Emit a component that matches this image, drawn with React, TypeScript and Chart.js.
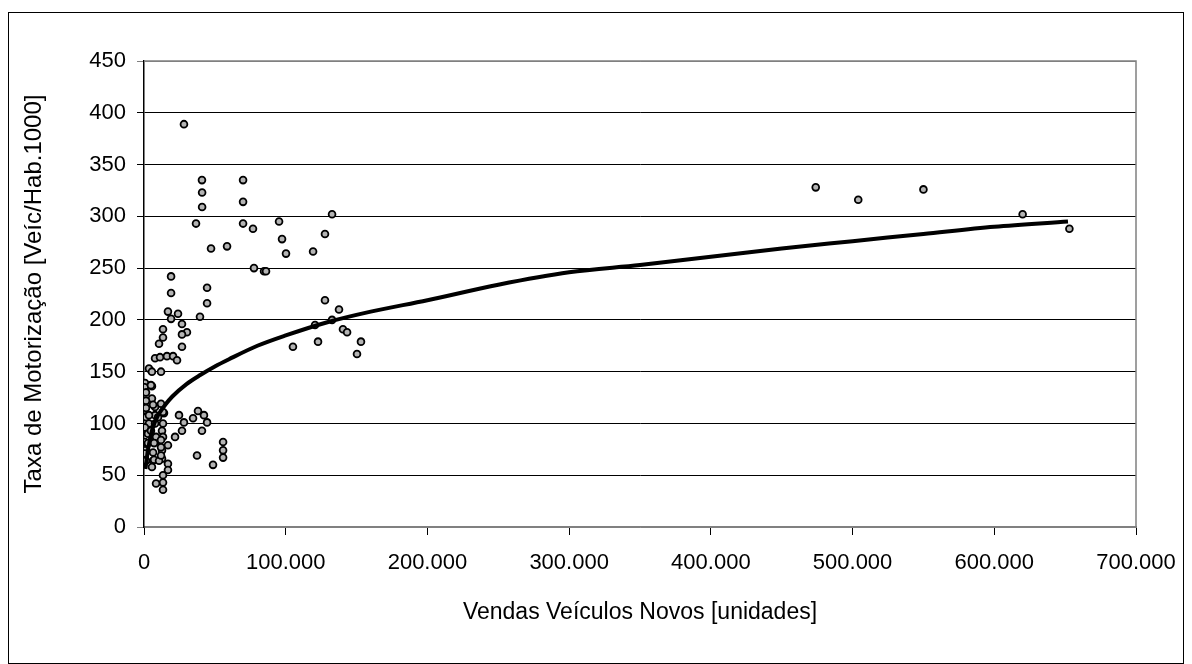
import React, { useEffect, useRef } from "react";
import { Chart, registerables } from "chart.js";

Chart.register(...registerables);

// Scatter data: sales of new vehicles (units) vs motorization rate (veh / 1000 inhabitants)
const salesUnits: number[] = [
  28200, 40900, 41000, 41000, 36700, 69900, 69900, 69900, 76900, 47300,
  58600, 95300, 97400, 100200, 77600, 84700, 86100, 132700, 127700, 119300,
  44500, 44500, 39500, 127700, 137600, 120700, 132700, 140400, 143300, 105100,
  122800, 153100, 150300, 38100, 34600, 42300, 44500, 40900, 55800, 55800,
  55800, 37400, 48700, 24700, 28200, 26800, 21900, 19100, 19100, 16900,
  24000, 19100, 26800, 13400, 30300, 26800, 13400, 10600, 26800, 7800,
  11300, 16200, 20500, 23300, 3500, 5600, 12000, 700, 500, 1400,
  5600, 5600, 700, 7800, 12000, 700, 7800, 14100, 1400, 3500,
  700, 2800, 7800, 13400, 12700, 4900, 700, 7800, 13400, 16900,
  8500, 700, 6400, 12700, 12000, 2800, 700, 6400, 12700, 5600,
  16900, 16900, 13400, 13400, 13400, 8500, 1400, 700, 7100, 10600,
  12000, 12000, 7100, 9900, 6400, 3500, 1400, 13400, 1400, 4900,
  474000, 504000, 550000, 620000, 653000,
];

const motorizationRate: number[] = [
  389, 335, 323, 309, 293, 335, 314, 293, 288, 269,
  271, 295, 278, 264, 250, 247, 247, 302, 283, 266,
  231, 216, 203, 219, 210, 195, 200, 191, 188, 174,
  179, 179, 167, 112, 105, 108, 101, 93, 82, 74,
  67, 69, 60, 108, 101, 93, 87, 242, 226, 208,
  206, 201, 196, 191, 188, 186, 183, 177, 174, 163,
  164, 165, 165, 161, 153, 150, 150, 139, 135, 130,
  136, 124, 121, 116, 119, 113, 108, 110, 106, 100,
  96, 90, 100, 100, 93, 93, 82, 82, 87, 79,
  87, 74, 72, 74, 84, 81, 66, 64, 66, 58,
  61, 55, 50, 43, 36, 42, 64, 71, 65, 64,
  69, 77, 81, 106, 118, 108, 115, 111, 122, 137,
  328, 316, 326, 302, 288,
];

// Logarithmic trend line
const trendSales: number[] = [
  1000, 3000, 6000, 10000, 15000, 20000, 30000, 40000, 50000, 60000,
  80000, 100000, 130000, 160000, 200000, 250000, 300000, 350000, 400000, 450000,
  500000, 550000, 600000, 652000,
];
const trendRate: number[] = [
  56, 76, 95, 108, 118, 126, 138, 147, 155, 162,
  175, 185, 198, 208, 219, 234, 246, 253, 261, 269,
  276, 283, 290, 295,
];

const yTicks: number[] = [0, 50, 100, 150, 200, 250, 300, 350, 400, 450];
const xTicks: number[] = [0, 100000, 200000, 300000, 400000, 500000, 600000, 700000];

const xTitle = "Vendas Veículos Novos [unidades]";
const yTitle = "Taxa de Motorização [Veíc/Hab.1000]";

const FONT = "'Liberation Sans', Arial, sans-serif";

const fmtThousands = (v: number): string => {
  const s = Math.round(v).toString();
  return s.replace(/\B(?=(\d{3})+(?!\d))/g, ".");
};

const framePlugin = {
  id: "framePlugin",
  beforeDraw(chart: any) {
    const { ctx, width, height } = chart;
    ctx.save();
    ctx.fillStyle = "#ffffff";
    ctx.fillRect(0, 0, width, height);
    ctx.restore();
  },
  beforeDatasetsDraw(chart: any) {
    const { ctx, chartArea } = chart;
    ctx.save();
    ctx.strokeStyle = "#808080";
    ctx.lineWidth = 1.5;
    ctx.beginPath();
    ctx.moveTo(chartArea.left, chartArea.top);
    ctx.lineTo(chartArea.right, chartArea.top);
    ctx.lineTo(chartArea.right, chartArea.bottom);
    ctx.stroke();
    ctx.restore();
  },
  afterDraw(chart: any) {
    const { ctx } = chart;
    ctx.save();
    ctx.strokeStyle = "#000000";
    ctx.lineWidth = 1;
    ctx.strokeRect(8.5, 12.5, 1175, 651);
    ctx.restore();
  },
};

export default function App() {
  const canvasRef = useRef<HTMLCanvasElement | null>(null);

  useEffect(() => {
    if (!canvasRef.current) return;
    const points = salesUnits.map((x, i) => ({ x, y: motorizationRate[i] }));
    const trend = trendSales.map((x, i) => ({ x, y: trendRate[i] }));

    const chart = new Chart(canvasRef.current, {
      type: "scatter",
      data: {
        datasets: [
          {
            label: "Tendência",
            data: trend,
            showLine: true,
            borderColor: "#000000",
            borderWidth: 4,
            pointRadius: 0,
            cubicInterpolationMode: "monotone",
            order: 0,
          } as any,
          {
            label: "Países",
            data: points,
            showLine: false,
            pointRadius: 3.4,
            pointBorderWidth: 1.8,
            pointBackgroundColor: "#b4b4b4",
            pointBorderColor: "#000000",
            order: 1,
          },
        ],
      },
      options: {
        animation: false,
        responsive: true,
        maintainAspectRatio: false,
        layout: { padding: { top: 61, right: 56, left: 0, bottom: 0 } },
        plugins: {
          legend: { display: false },
          tooltip: { enabled: false },
          title: { display: false },
        },
        scales: {
          x: {
            type: "linear",
            min: 0,
            max: 700000,
            afterBuildTicks: (scale: any) => {
              scale.ticks = xTicks.map((v) => ({ value: v }));
            },
            afterFit: (scale: any) => {
              scale.height = 137;
            },
            ticks: {
              color: "#000000",
              font: { family: FONT, size: 22 },
              padding: 15,
              maxRotation: 0,
              autoSkip: false,
              callback: (v: any) => fmtThousands(Number(v)),
            },
            grid: {
              drawOnChartArea: false,
              drawTicks: true,
              tickLength: 8,
              color: "#000000",
            },
            border: { display: true, color: "#808080", width: 1.5 },
            title: {
              display: true,
              text: xTitle,
              color: "#000000",
              font: { family: FONT, size: 23 },
              padding: { top: 0, bottom: 38 },
            },
          },
          y: {
            type: "linear",
            min: 0,
            max: 450,
            afterBuildTicks: (scale: any) => {
              scale.ticks = yTicks.map((v) => ({ value: v }));
            },
            afterFit: (scale: any) => {
              scale.width = 144;
            },
            ticks: {
              color: "#000000",
              font: { family: FONT, size: 22 },
              padding: 11,
              autoSkip: false,
              callback: (v: any) => String(v),
            },
            grid: {
              drawTicks: true,
              tickLength: 7,
              color: (c: any) =>
                c.tick && (c.tick.value === 0 || c.tick.value === 450) ? "#808080" : "#000000",
              lineWidth: 1,
            },
            border: { display: true, color: "#000000", width: 1.5 },
            title: {
              display: true,
              text: yTitle,
              color: "#000000",
              font: { family: FONT, size: 24 },
              padding: { top: 20, bottom: 0 },
            },
          },
        },
      },
      plugins: [framePlugin],
    });

    return () => {
      chart.destroy();
    };
  }, []);

  return (
    <div
      style={{
        position: "absolute",
        left: 0,
        top: 0,
        width: "1192px",
        height: "664px",
        background: "#ffffff",
      }}
    >
      <canvas ref={canvasRef} />
    </div>
  );
}
